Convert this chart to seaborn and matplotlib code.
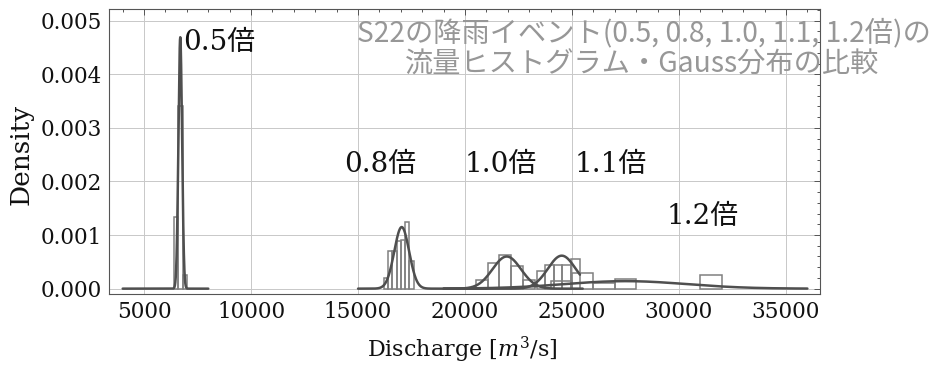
import numpy as np
import pandas as pd
import matplotlib
matplotlib.use("Agg")
import matplotlib.pyplot as plt
import seaborn as sns
from matplotlib.ticker import MultipleLocator, FormatStrFormatter

sns.set_theme(style="white")
plt.rcParams["font.family"] = ["DejaVu Serif", "Noto Sans CJK JP"]
plt.rcParams["mathtext.fontset"] = "dejavuserif"

# Rainfall scaling factors (S22 event)
scale_labels = ["0.5倍", "0.8倍", "1.0倍", "1.1倍", "1.2倍"]

# Histogram bin edges [m3/s] and densities for each scaled event
edges_05 = [6400, 6600, 6800, 7000]
dens_05 = [0.00134, 0.0034, 0.00025]

edges_08 = [16200, 16400, 16600, 16800, 17000, 17200, 17400, 17600]
dens_08 = [0.0002, 0.0007, 0.0007, 0.00088, 0.0009, 0.00124, 0.00052]

edges_10 = [20500, 21050, 21600, 22150, 22700, 23250]
dens_10 = [0.00017, 0.00048, 0.00063, 0.00042, 0.00017]

edges_11 = [23350, 23750, 24150, 24550, 24950, 25350]
dens_11 = [0.00032, 0.00045, 0.00045, 0.00045, 0.00055]

edges_12 = [24000, 25000, 26000, 27000, 28000, 29000, 30000, 31000, 32000]
dens_12 = [0.00015, 0.0003, 0.0001, 0.00018, 0.0, 0.0, 0.0, 0.00026]

# Fitted Gauss distributions: mean, standard deviation, plotted range
gauss_mean = [6690, 17040, 21950, 24520, 27500]
gauss_sd = [85, 347, 665, 648, 2850]
gauss_from = [4000, 15000, 19000, 20000, 19000]
gauss_to = [8000, 21000, 25500, 25370, 36000]

# Label anchor points (data coordinates)
label_x = [6820, 16050, 21680, 26820, 31080]
label_y = [0.0046, 0.00232, 0.00232, 0.00232, 0.00134]

title_1 = "S22の降雨イベント(0.5, 0.8, 1.0, 1.1, 1.2倍)の"
title_2 = "流量ヒストグラム・Gauss分布の比較"

W, H = 945, 367
fig = plt.figure(figsize=(W / 100, H / 100), dpi=100)
fig.patch.set_facecolor("white")
ax = fig.add_axes([109 / W, 1 - 294 / H, (820 - 109) / W, (294 - 9) / H])

bar_color = "#808080"
line_color = "#4f4f4f"

hist_sets = [(edges_05, dens_05), (edges_08, dens_08), (edges_10, dens_10),
             (edges_11, dens_11), (edges_12, dens_12)]
for edges, dens in hist_sets:
    e = [float(v) for v in edges]
    centers = [0.5 * (lo + hi) for lo, hi in zip(e[:-1], e[1:])]
    df = pd.DataFrame({"q": centers, "w": dens})
    sns.histplot(data=df, x="q", weights="w", bins=e, stat="count", fill=False,
                 color=bar_color, linewidth=1.1, ax=ax, zorder=2)

# drop empty bins so they don't leave a line on the baseline
for p in list(ax.patches):
    if p.get_height() == 0:
        p.remove()

for mu, sd, a, b in zip(gauss_mean, gauss_sd, gauss_from, gauss_to):
    xs = np.linspace(a, b, 600)
    ys = np.exp(-0.5 * ((xs - mu) / sd) ** 2) / (sd * np.sqrt(2 * np.pi))
    sns.lineplot(x=xs, y=ys, color=line_color, linewidth=1.8, ax=ax, zorder=3)

for i, (txt, lx, ly) in enumerate(zip(scale_labels, label_x, label_y)):
    ax.text(lx, ly, txt, fontsize=20, color="#111111",
            ha="left" if i == 0 else "center", va="center", zorder=5)

ax.set_xlim(3360, 36590)
ax.set_ylim(-0.0001, 0.00522)

ax.xaxis.set_major_locator(MultipleLocator(5000))
ax.xaxis.set_minor_locator(MultipleLocator(1000))
ax.yaxis.set_major_locator(MultipleLocator(0.001))
ax.yaxis.set_minor_locator(MultipleLocator(0.0002))
ax.xaxis.set_major_formatter(FormatStrFormatter("%d"))
ax.yaxis.set_major_formatter(FormatStrFormatter("%.3f"))

ax.grid(True, which="major", color="#c8c8c8", linewidth=0.7)
ax.set_axisbelow(True)
ax.tick_params(which="both", direction="in", top=True, right=True,
               colors="#555555", labelcolor="#111111", width=0.7)
ax.tick_params(which="major", length=4, labelsize=15.5, pad=5)
ax.tick_params(which="minor", length=2.5)
for s in ax.spines.values():
    s.set_color("#555555")
    s.set_linewidth(0.8)

ax.set_xlabel(r"Discharge [$m^3$/s]", fontsize=16, color="#111111")
ax.set_ylabel("Density", fontsize=19, color="#111111")
ax.xaxis.set_label_coords(0.4965, -0.197)
ax.xaxis.label.set_verticalalignment("center")
ax.yaxis.set_label_coords(-0.124, 0.491)
ax.yaxis.label.set_verticalalignment("center")

tfam = ["Noto Sans CJK JP", "DejaVu Sans"]
fig.text(644 / W, 1 - 33 / H, title_1, ha="center", va="center",
         color="#979797", fontsize=20.3, family=tfam)
fig.text(642 / W, 1 - 65 / H, title_2, ha="center", va="center",
         color="#979797", fontsize=20.3, family=tfam)

fig.savefig("out.png", dpi=100, facecolor="white")
